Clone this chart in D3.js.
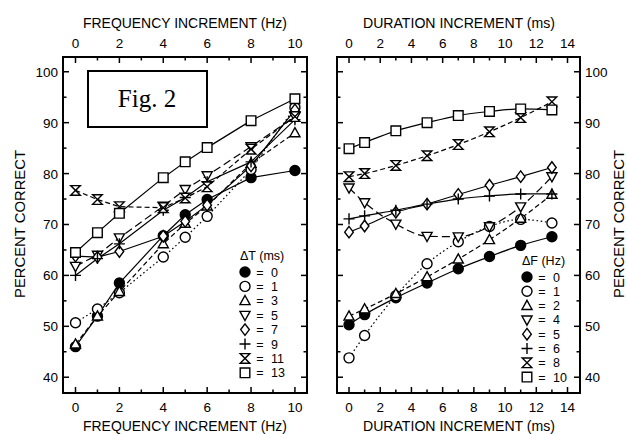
<!DOCTYPE html>
<html><head><meta charset="utf-8">
<script src="https://cdn.jsdelivr.net/npm/d3@7"></script>
<style>
body{margin:0;background:#fff;}
svg text{font-family:"Liberation Sans",Arial,sans-serif;fill:#000;}
</style></head><body>
<svg id="c" width="627" height="434"></svg>
<script>
// ---------- DATA ----------
const freqX = [0, 1, 2, 4, 5, 6, 8, 10];          // Hz (left panel)
const durX  = [0, 1, 3, 5, 7, 9, 11, 13];         // ms (right panel)

const dTLabels = ["0", "1", "3", "5", "7", "9", "11", "13"];
const dT0  = [46.0, 52.0, 58.5, 67.8, 71.9, 74.9, 79.2, 80.6];
const dT1  = [50.7, 53.4, 56.6, 63.6, 67.5, 71.6, 80.8, 93.0];
const dT3  = [46.5, 52.0, 56.8, 66.2, 70.2, 73.6, 82.0, 88.0];
const dT5  = [61.8, 64.0, 67.4, 73.6, 76.9, 79.6, 85.3, 91.2];
const dT7  = [63.8, 63.6, 64.7, 67.7, 70.6, 73.8, 81.5, 92.5];
const dT9  = [60.0, 63.3, 66.2, 72.8, 75.3, 78.4, 82.3, 90.6];
const dT11 = [76.7, 74.9, 73.5, 73.3, 75.2, 77.4, 84.8, 91.2];
const dT13 = [64.5, 68.4, 72.2, 79.2, 82.3, 85.1, 90.4, 94.7];

const dFLabels = ["0", "1", "2", "4", "5", "6", "8", "10"];
const dF0  = [50.3, 52.3, 55.6, 58.5, 61.3, 63.7, 65.9, 67.6];
const dF1  = [43.8, 48.2, 56.0, 62.3, 66.6, 69.6, 71.0, 70.3];
const dF2  = [52.0, 53.4, 56.4, 59.7, 63.2, 67.0, 71.2, 75.9];
const dF4  = [77.2, 74.3, 70.1, 67.7, 67.6, 69.6, 73.5, 79.4];
const dF5  = [68.5, 69.7, 72.4, 74.0, 75.9, 77.7, 79.4, 81.2];
const dF6  = [71.1, 71.7, 72.8, 74.0, 75.0, 75.6, 76.0, 76.0];
const dF8  = [79.4, 80.0, 81.6, 83.5, 85.7, 88.2, 91.0, 94.1];
const dF10 = [84.9, 86.1, 88.4, 90.0, 91.4, 92.2, 92.7, 92.5];

const yTicks = [40, 50, 60, 70, 80, 90, 100];
const freqTicks = [0, 2, 4, 6, 8, 10];
const durTicks = [0, 2, 4, 6, 8, 10, 12, 14];

// symbol / line style per series (order of series)
const symbols = ["fcircle", "circle", "tri", "itri", "diamond", "plus", "hourglass", "square"];
const dashes  = [null, "1.6,2.6", "5,3", "8,4", null, null, "5,3", null];

const leftSeries  = [dT0, dT1, dT3, dT5, dT7, dT9, dT11, dT13];
const rightSeries = [dF0, dF1, dF2, dF4, dF5, dF6, dF8, dF10];

// ---------- DRAW ----------
const svg = d3.select("#c");
const y = d3.scaleLinear().domain([36.9, 102.9]).range([393, 57]);
const xL = d3.scaleLinear().domain([-0.57, 10.55]).range([63, 307]);
const xR = d3.scaleLinear().domain([-0.77, 14.8]).range([337, 580]);

function symPath(type, s) {
  switch (type) {
    case "tri": return `M0,${-s*1.1}L${s*1.05},${s*0.8}L${-s*1.05},${s*0.8}Z`;
    case "itri": return `M0,${s*1.1}L${s*1.05},${-s*0.8}L${-s*1.05},${-s*0.8}Z`;
    case "diamond": return `M0,${-s*1.2}L${s*0.9},0L0,${s*1.2}L${-s*0.9},0Z`;
    case "plus": return `M${-s*1.15},0H${s*1.15}M0,${-s*1.15}V${s*1.15}`;
    case "hourglass": return `M${-s},${-s}H${s}L${-s},${s}H${s}Z`;
    case "square": return `M${-s},${-s}H${s}V${s}H${-s}Z`;
  }
}
function drawSym(g, type, cx, cy) {
  const s = 4.8;
  if (type === "fcircle" || type === "circle") {
    g.append("circle").attr("cx", cx).attr("cy", cy).attr("r", 5)
      .attr("fill", type === "fcircle" ? "#000" : "#fff")
      .attr("stroke", "#000").attr("stroke-width", 1.4);
  } else {
    g.append("path").attr("d", symPath(type, s))
      .attr("transform", `translate(${cx},${cy})`)
      .attr("fill", type === "plus" ? "none" : "#fff")
      .attr("stroke", "#000").attr("stroke-width", 1.4);
  }
}

function panel(x, xs, series, curve, xTicksLab, xMax, legendTitle, legendLabels, leg, yLabSide, topTitle, titleLen, titleX) {
  const [x0, x1] = x.range();
  const [yb, yt] = y.range();
  const g = svg.append("g");
  series.forEach((vals, i) => {
    const line = d3.line().x((d, j) => x(xs[j])).y(d => y(d)).curve(curve);
    g.append("path").attr("d", line(vals)).attr("fill", "none")
      .attr("stroke", "#000").attr("stroke-width", 1.2)
      .attr("stroke-dasharray", dashes[i]);
  });
  series.forEach((vals, i) => {
    vals.forEach((v, j) => drawSym(g, symbols[i], x(xs[j]), y(v)));
  });
  g.append("rect").attr("x", x0).attr("y", yt).attr("width", x1 - x0).attr("height", yb - yt)
    .attr("fill", "none").attr("stroke", "#000").attr("stroke-width", 2);
  d3.range(0, xMax + 1).forEach(t => {
    const len = t % 2 === 0 ? 6 : 3.5;
    g.append("line").attr("x1", x(t)).attr("x2", x(t)).attr("y1", yb).attr("y2", yb - len).attr("stroke", "#000").attr("stroke-width", 1.5);
    g.append("line").attr("x1", x(t)).attr("x2", x(t)).attr("y1", yt).attr("y2", yt + len).attr("stroke", "#000").attr("stroke-width", 1.5);
  });
  xTicksLab.forEach(t => {
    g.append("text").attr("x", x(t)).attr("y", 412).attr("text-anchor", "middle").attr("font-size", 13.5).text(t);
    g.append("text").attr("x", x(t)).attr("y", 48).attr("text-anchor", "middle").attr("font-size", 13.5).text(t);
  });
  d3.range(40, 101, 5).forEach(t => {
    const len = t % 10 === 0 ? 6 : 3.5;
    g.append("line").attr("x1", x0).attr("x2", x0 + len).attr("y1", y(t)).attr("y2", y(t)).attr("stroke", "#000").attr("stroke-width", 1.5);
    g.append("line").attr("x1", x1).attr("x2", x1 - len).attr("y1", y(t)).attr("y2", y(t)).attr("stroke", "#000").attr("stroke-width", 1.5);
  });
  yTicks.forEach(t => {
    if (yLabSide === "left")
      g.append("text").attr("x", 58).attr("y", y(t) + 5).attr("text-anchor", "end").attr("font-size", 13.5).text(t);
    else
      g.append("text").attr("x", 585).attr("y", y(t) + 5).attr("text-anchor", "start").attr("font-size", 13.5).text(t);
  });
  [28, 431].forEach(by => {
    g.append("text").attr("x", titleX).attr("y", by).attr("font-size", 15)
      .attr("textLength", titleLen).attr("lengthAdjust", "spacingAndGlyphs").text(topTitle);
  });
  const lg = svg.append("g");
  lg.append("text").attr("x", leg.hx).attr("y", leg.hy).attr("font-size", 12.5).text(legendTitle);
  legendLabels.forEach((lab, i) => {
    const cy = leg.y0 + i * leg.dy;
    drawSym(lg, symbols[i], leg.sx, cy);
    lg.append("text").attr("x", leg.sx + 15).attr("y", cy + 4.5).attr("text-anchor", "middle").attr("font-size", 12.5).text("=");
    lg.append("text").attr("x", leg.sx + 26).attr("y", cy + 4.5).attr("font-size", 12.5).text(lab);
  });
}

panel(xL, freqX, leftSeries, d3.curveLinear, freqTicks, 10, "\u0394T (ms)", dTLabels,
  {hx: 240, hy: 260, sx: 245, y0: 272, dy: 14.4}, "left", "FREQUENCY INCREMENT (Hz)", 204, 83);
panel(xR, durX, rightSeries, d3.curveMonotoneX, durTicks, 14, "\u0394F (Hz)", dFLabels,
  {hx: 522, hy: 265, sx: 527, y0: 277, dy: 14.3}, "right", "DURATION INCREMENT (ms)", 192, 363);

svg.append("text").attr("transform", "translate(25,224) rotate(-90)").attr("text-anchor", "middle")
  .attr("font-size", 14.5).attr("textLength", 148).attr("lengthAdjust", "spacingAndGlyphs").text("PERCENT CORRECT");
svg.append("text").attr("transform", "translate(624,224) rotate(-90)").attr("text-anchor", "middle")
  .attr("font-size", 14.5).attr("textLength", 148).attr("lengthAdjust", "spacingAndGlyphs").text("PERCENT CORRECT");

svg.append("rect").attr("x", 88).attr("y", 71).attr("width", 119).attr("height", 56)
  .attr("fill", "#fff").attr("stroke", "#000").attr("stroke-width", 2);
svg.append("text").attr("x", 147).attr("y", 107).attr("text-anchor", "middle")
  .style("font-family", "'Liberation Serif','Times New Roman',serif").attr("font-size", 25).text("Fig. 2");
</script></body></html>
